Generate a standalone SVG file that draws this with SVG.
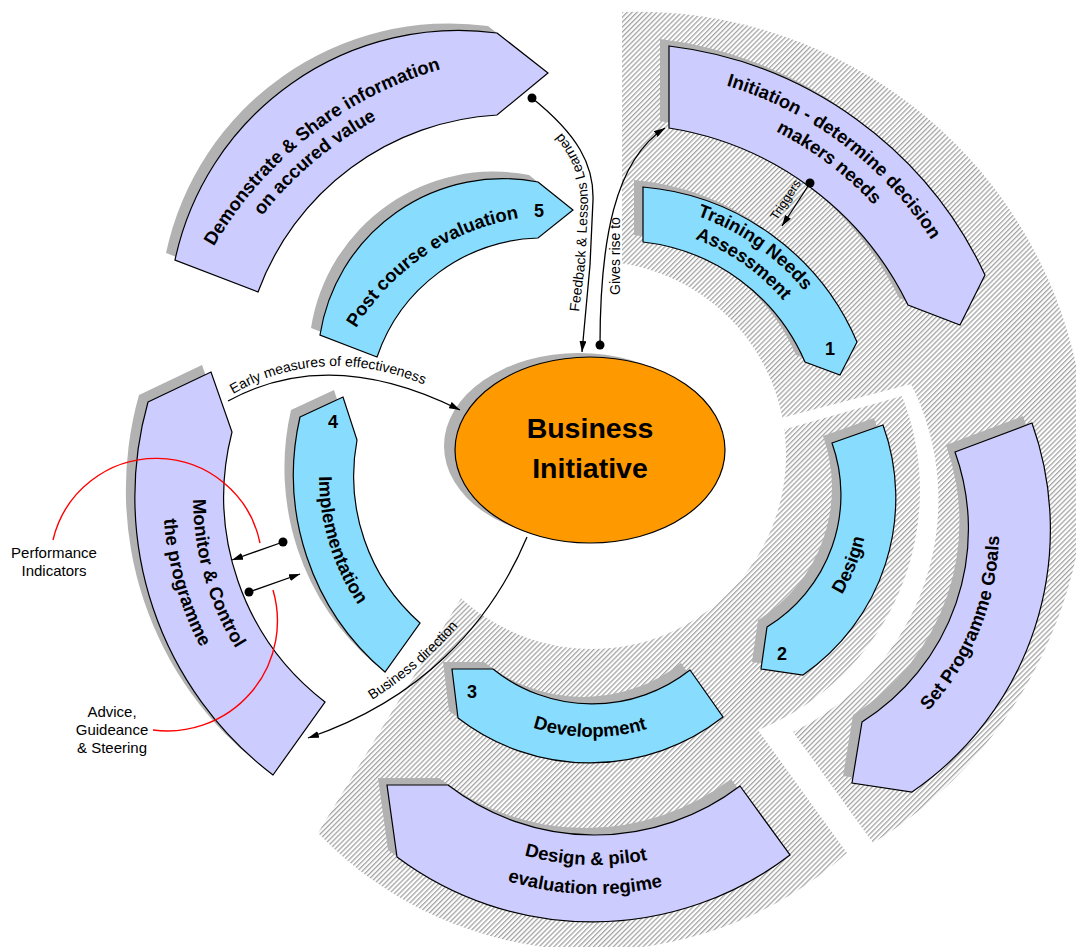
<svg xmlns="http://www.w3.org/2000/svg" width="1076" height="947" viewBox="0 0 1076 947">
<style>
.lav{fill:#CCCCFF;stroke:#000;stroke-width:1.2}
.blu{fill:#88DDFF;stroke:#000;stroke-width:1.2}
.shd{fill:#B2B2B2;stroke:none}
.nt{font-family:"Liberation Sans",Arial,sans-serif;font-weight:bold;font-size:18.5px;fill:#000}
.num{font-family:"Liberation Sans",Arial,sans-serif;font-weight:bold;font-size:18px;fill:#000;text-anchor:middle}
.lbl{font-family:"Liberation Sans",Arial,sans-serif;font-size:14px;fill:#000}
.side{font-family:"Liberation Sans",Arial,sans-serif;font-size:15px;fill:#000;text-anchor:middle}
.conn{fill:none;stroke:#000;stroke-width:1.3}
.red{fill:none;stroke:#FF0000;stroke-width:1.4}
</style>
<defs>
<pattern id="hatch" patternUnits="userSpaceOnUse" width="3.5" height="4" patternTransform="rotate(45)">
<rect width="3.5" height="4" fill="#fff"/><rect width="1.3" height="4" fill="#a4a4a4"/>
</pattern>
<marker id="ah" viewBox="0 0 11 7" refX="11" refY="3.5" markerWidth="11" markerHeight="7" markerUnits="userSpaceOnUse" orient="auto"><path d="M0,0 L11,3.5 L0,7 Z" fill="#000"/></marker>
<marker id="dot" viewBox="0 0 10 10" refX="5" refY="5" markerWidth="10" markerHeight="10" markerUnits="userSpaceOnUse"><circle cx="5" cy="5" r="4.5" fill="#000"/></marker>
<path id="s-init" d="M669,46 A401,401 0 0 1 985,275 L960,325 L908,305 A322,322 0 0 0 669,128 Z"/>
<path id="s-tna" d="M643,187 A256,256 0 0 1 857,342 L840,375 L805,362 A201,201 0 0 0 643,242 Z"/>
<path id="s-design" d="M832,443 L883,425 A215,215 0 0 1 803,675 L761,669 L767,627 A155,155 0 0 0 832,443 Z"/>
<path id="s-spg" d="M955,452 L1032,423 A318,318 0 0 1 912,792 L852,783 L862,722 A228,228 0 0 0 955,452 Z"/>
<path id="s-dev" d="M452,669 L493,669 A158,158 0 0 0 690,670 L723,717 A216,216 0 0 1 458,718 Z"/>
<path id="s-dp" d="M387,785 L448,785 A240,240 0 0 0 740,786 L790,855 A326,326 0 0 1 397,857 Z"/>
<path id="s-mon" d="M148,402 L211,372 L232,432 A259,259 0 0 0 325,702 L273,775 A349,349 0 0 1 148,402 Z"/>
<path id="s-imp" d="M300,417 L343,397 L357,440 A196,196 0 0 0 420,623 L385,672 A258,258 0 0 1 300,417 Z"/>
<path id="s-post" d="M538,182 L573,210 L538,238 A176,176 0 0 0 377,357 L320,335 A185,185 0 0 1 538,182 Z"/>
<path id="s-demo" d="M497,33 L548,73 L497,115 A271,271 0 0 0 258,292 L175,260 A290,290 0 0 1 497,33 Z"/>
<path id="o370" d="M-364.4,-64.2 A370,370 0 0 1 364.4,-64.2"/>
<path id="o346" d="M-340.7,-60.1 A346,346 0 0 1 340.7,-60.1"/>
<path id="o237" d="M-233.4,-41.1 A237,237 0 0 1 233.4,-41.1"/>
<path id="o215" d="M-211.7,-37.3 A215,215 0 0 1 211.7,-37.3"/>
<path id="o385" d="M-379.1,-66.8 A385,385 0 0 1 379.1,-66.8"/>
<path id="o362" d="M-356.5,-62.8 A362,362 0 0 1 356.5,-62.8"/>
<path id="i188" d="M-185.1,32.6 A188,188 0 0 0 185.1,32.6"/>
<path id="i264" d="M-260,45.8 A264,264 0 0 0 260,45.8"/>
<path id="i191" d="M-188.1,33.2 A191,191 0 0 0 188.1,33.2"/>
<path id="i269" d="M-264.9,46.7 A269,269 0 0 0 264.9,46.7"/>
<path id="i298" d="M-293.5,51.7 A298,298 0 0 0 293.5,51.7"/>
<path id="i290" d="M-285.6,50.3 A290,290 0 0 0 285.6,50.3"/>
<path id="i320" d="M-315.1,55.6 A320,320 0 0 0 315.1,55.6"/>
<path id="i231" d="M-227.5,40.1 A231,231 0 0 0 227.5,40.1"/>
<path id="tp-feed" d="M579,312 L585,265 L588,205 C589,170 572,136 536,109"/>
<path id="tp-early" d="M233,394 Q331,338 445,394"/>
<path id="tp-bus" d="M372,700 Q438,658 480,598"/>
</defs>

<g id="background">
<path d="M622,12 A449,449 0 0 1 873,843 L847,853 A381,381 0 0 1 318,833 L460,600 L560,480 L622,450 Z" fill="url(#hatch)"/>
<circle cx="592" cy="455" r="194" fill="#fff"/>
<path d="M770,421 L911,384 A258,258 0 0 1 793,732 L873,843 L895,874 L866,880 L847,853 L758,730 A258,258 0 0 0 902,396 L772,433 Z" fill="#fff"/>
</g>

<g id="node-initiation">
<use href="#s-init" class="shd" transform="translate(-9,-7)"/>
<use href="#s-init" class="lav"/>
<g transform="translate(620,440) rotate(37)"><text class="nt" text-anchor="middle"><textPath href="#o370" startOffset="50%">Initiation - determine decision</textPath></text>
<text class="nt" text-anchor="middle"><textPath href="#o346" startOffset="50%">makers needs</textPath></text></g>
</g>

<g id="node-tna">
<use href="#s-tna" class="shd" transform="translate(-9,-7)"/>
<use href="#s-tna" class="blu"/>
<g transform="translate(620,440) rotate(35)"><text class="nt" text-anchor="middle"><textPath href="#o237" startOffset="50%">Training Needs</textPath></text>
<text class="nt" text-anchor="middle"><textPath href="#o215" startOffset="50%">Assessment</textPath></text></g>
<text class="num" x="830" y="355">1</text>
</g>

<g id="node-design">
<use href="#s-design" class="shd" transform="translate(-9,-7)"/>
<use href="#s-design" class="blu"/>
<g transform="translate(681,498) rotate(-68.4)"><text class="nt" text-anchor="middle"><textPath href="#i188" startOffset="50%">Design</textPath></text></g>
<text class="num" x="782" y="660">2</text>
</g>

<g id="node-spg">
<use href="#s-spg" class="shd" transform="translate(-9,-7)"/>
<use href="#s-spg" class="lav"/>
<g transform="translate(735,531) rotate(-68)"><text class="nt" text-anchor="middle"><textPath href="#i264" startOffset="50%">Set Programme Goals</textPath></text></g>
</g>

<g id="node-development">
<use href="#s-dev" class="shd" transform="translate(-9,-7)"/>
<use href="#s-dev" class="blu"/>
<g transform="translate(592,546) rotate(0.6)"><text class="nt" text-anchor="middle"><textPath href="#i191" startOffset="50%">Development</textPath></text></g>
<text class="num" x="472" y="698">3</text>
</g>

<g id="node-pilot">
<use href="#s-dp" class="shd" transform="translate(-9,-7)"/>
<use href="#s-dp" class="lav"/>
<g transform="translate(595,596) rotate(2)"><text class="nt" text-anchor="middle"><textPath href="#i269" startOffset="50%">Design &amp; pilot</textPath></text>
<text class="nt" text-anchor="middle"><textPath href="#i298" startOffset="50%">evaluation regime</textPath></text></g>
</g>

<g id="node-monitor">
<use href="#s-mon" class="shd" transform="translate(-9,-7)"/>
<use href="#s-mon" class="lav"/>
<g transform="translate(483,497) rotate(74)"><text class="nt" text-anchor="middle"><textPath href="#i290" startOffset="50%">Monitor &amp; Control</textPath></text>
<text class="nt" text-anchor="middle"><textPath href="#i320" startOffset="50%">the programme</textPath></text></g>
</g>

<g id="node-implementation">
<use href="#s-imp" class="shd" transform="translate(-9,-7)"/>
<use href="#s-imp" class="blu"/>
<g transform="translate(550,476) rotate(73)"><text class="nt" text-anchor="middle"><textPath href="#i231" startOffset="50%">Implementation</textPath></text></g>
<text class="num" x="333" y="428">4</text>
</g>

<g id="node-post">
<use href="#s-post" class="shd" transform="translate(-9,-7)"/>
<use href="#s-post" class="blu"/>
<g transform="translate(558,452) rotate(-34)"><text class="nt" text-anchor="middle"><textPath href="#o237" startOffset="50%">Post course evaluation</textPath></text></g>
<text class="num" x="539" y="217">5</text>
</g>

<g id="node-demonstrate">
<use href="#s-demo" class="shd" transform="translate(-9,-7)"/>
<use href="#s-demo" class="lav"/>
<g transform="translate(547,439) rotate(-38)"><text class="nt" text-anchor="middle"><textPath href="#o385" startOffset="50%">Demonstrate &amp; Share information</textPath></text></g>
<g transform="translate(547,439) rotate(-40)"><text class="nt" text-anchor="middle"><textPath href="#o362" startOffset="50%">on accured value</textPath></text></g>
</g>

<g id="node-business">
<ellipse cx="579" cy="446" rx="135" ry="93" class="shd"/>
<ellipse cx="590" cy="450" rx="135" ry="93" fill="#FF9900" stroke="#000" stroke-width="1.2"/>
<text x="590" y="438" font-family="Liberation Sans, Arial, sans-serif" font-weight="bold" font-size="28.5" text-anchor="middle">Business</text>
<text x="590" y="478" font-family="Liberation Sans, Arial, sans-serif" font-weight="bold" font-size="28.5" text-anchor="middle">Initiative</text>
</g>

<g id="connectors">
<path class="conn" d="M532,98 C578,135 594,165 593,200 L590,265 L582,352" marker-start="url(#dot)" marker-end="url(#ah)"/>
<text class="lbl"><textPath href="#tp-feed">Feedback &amp; Lessons Learned</textPath></text>
<path class="conn" d="M600,345 C600,240 615,160 665,128" marker-start="url(#dot)" marker-end="url(#ah)"/>
<text class="lbl" text-anchor="middle" transform="translate(620,256) rotate(-90)">Gives rise to</text>
<path class="conn" d="M810,183 L782,226" marker-start="url(#dot)" marker-end="url(#ah)"/>
<text class="lbl" text-anchor="middle" transform="translate(789,202) rotate(-57)" style="font-size:12.5px">Triggers</text>
<path class="conn" d="M228,401 Q330,345 460,410" marker-end="url(#ah)"/>
<text class="lbl"><textPath href="#tp-early">Early measures of effectiveness</textPath></text>
<path class="conn" d="M527,537 C490,625 420,700 308,738" marker-end="url(#ah)"/>
<text class="lbl"><textPath href="#tp-bus">Business direction</textPath></text>
<path class="conn" d="M283,542 L232,560" marker-start="url(#dot)" marker-end="url(#ah)"/>
<path class="conn" d="M249,592 L300,574" marker-start="url(#dot)" marker-end="url(#ah)"/>
<path class="red" d="M53,540 A106,106 0 0 1 260,543"/>
<path class="red" d="M153,730 A110,110 0 0 0 273,590"/>
<text class="side" x="54" y="558">Performance</text>
<text class="side" x="54" y="576">Indicators</text>
<text class="side" x="112" y="717">Advice,</text>
<text class="side" x="112" y="735">Guideance</text>
<text class="side" x="112" y="753">&amp; Steering</text>
</g>
</svg>
